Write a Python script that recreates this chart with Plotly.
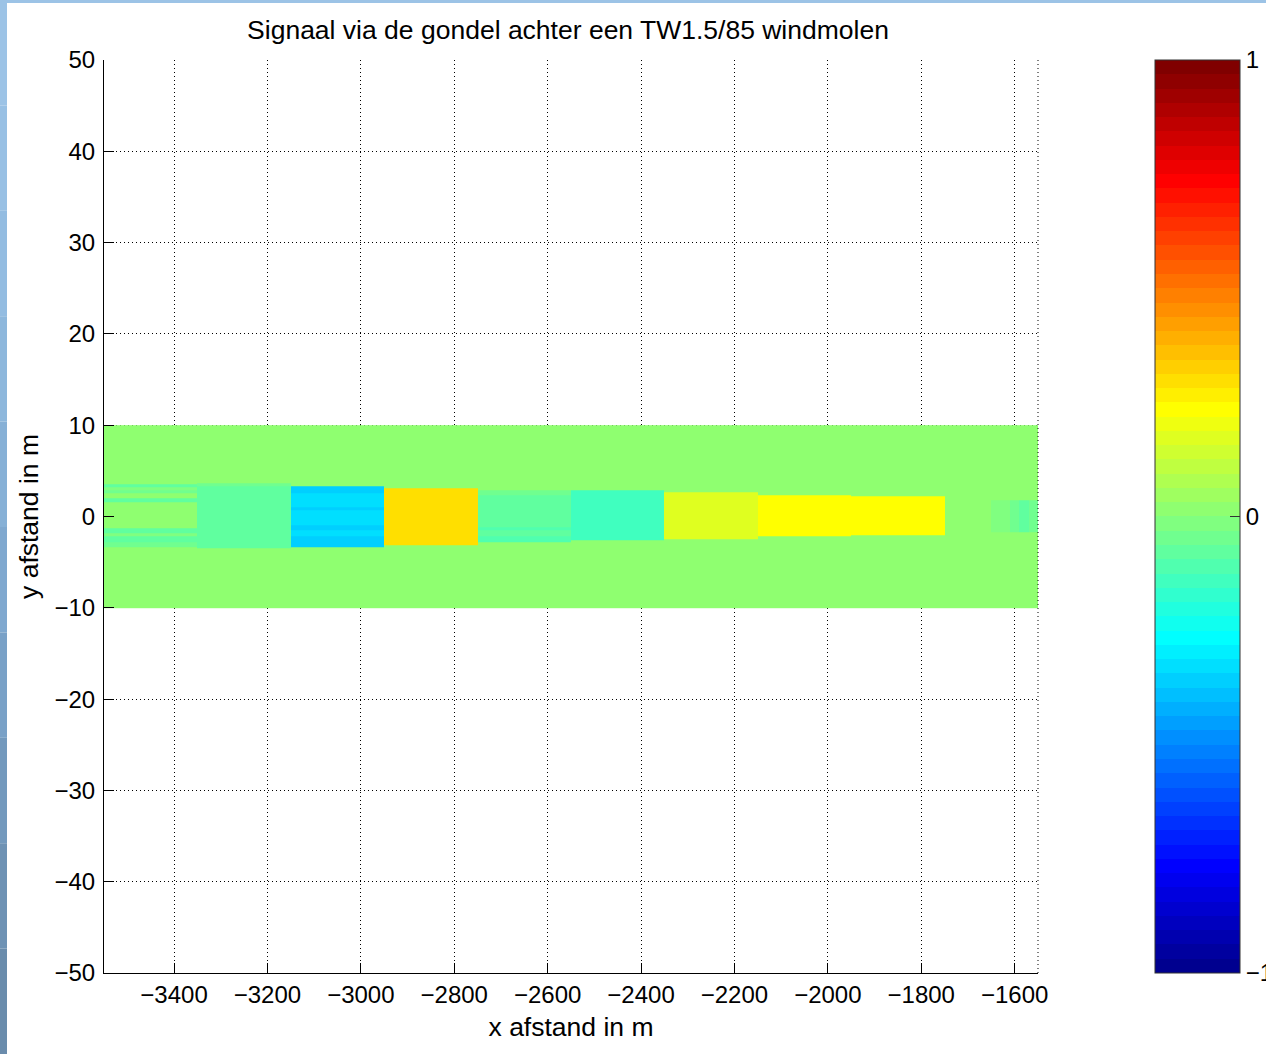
import plotly.graph_objects as go

# ---- data -----------------------------------------------------------------
# Column edges along the track behind the turbine (m)
x_edges = [-3550, -3350, -3150, -2950, -2750, -2550, -2350, -2150, -1950, -1750,
           -1650, -1630, -1610, -1590, -1570, -1550]

# Extent of the sampled strip across the track (m)
y_limits = [-10, 10]

# Signal level outside the wake bands
background_value = 0.015

# Wake bands per column as (y_bottom, y_top, signal); later bands overwrite earlier ones
col_bands = [
    [(3.26, 3.56, -0.078), (2.90, 3.26, -0.016), (2.54, 2.90, -0.047),
     (1.56, 1.99, -0.078), (-1.84, -1.29, -0.078), (-2.21, -1.84, -0.016),
     (-2.76, -2.21, -0.078), (-3.37, -2.76, -0.047)],
    [(-3.45, 3.64, -0.078), (3.30, 3.64, -0.047)],
    [(-3.31, 3.34, -0.328), (2.54, 3.34, -0.359), (0.71, 1.07, -0.359),
     (-1.48, -0.93, -0.359), (-3.31, -2.21, -0.359)],
    [(-3.09, 3.15, 0.297)],
    [(-2.76, 2.90, -0.078), (2.35, 2.90, -0.047), (-1.48, -1.12, -0.109),
     (-2.76, -2.21, -0.109)],
    [(-2.57, 2.90, -0.141)],
    [(-2.46, 2.65, 0.172)],
    [(-2.21, 2.35, 0.234)],
    [(-2.03, 2.17, 0.234)],
    [],
    [(-1.70, 1.80, -0.016)],
    [(-1.70, 1.80, -0.016)],
    [(-1.70, 1.80, -0.047)],
    [(-1.70, 1.80, -0.078)],
    [(-1.70, 1.80, -0.047)],
]

x_ticks = [-3400, -3200, -3000, -2800, -2600, -2400, -2200, -2000, -1800, -1600]
y_ticks = [-50, -40, -30, -20, -10, 0, 10, 20, 30, 40, 50]
cbar_ticks = [-1, 0, 1]

# ---- grid of cells built from the bands ----------------------------------
y_edges = sorted({y_limits[0], y_limits[1]} |
                 {b for bands in col_bands for seg in bands for b in seg[:2]})
z = []
for lo, hi in zip(y_edges[:-1], y_edges[1:]):
    mid = 0.5 * (lo + hi)
    row = []
    for bands in col_bands:
        v = background_value
        for b0, b1, val in bands:
            if b0 <= mid < b1:
                v = val
        row.append(v)
    z.append(row)


# ---- 64-level jet colour map ---------------------------------------------
def jet_levels(m=64):
    n = m // 4
    u = [i / n for i in range(1, n + 1)] + [1.0] * (n - 1) + [i / n for i in range(n, 0, -1)]
    g = [n // 2 + i for i in range(1, len(u) + 1)]
    r = [gi + n for gi in g if gi + n <= m]
    b = [gi - n for gi in g if gi - n >= 1]
    g = [gi for gi in g if gi <= m]
    rgb = [[0.0, 0.0, 0.0] for _ in range(m)]
    for k, ri in enumerate(r):
        rgb[ri - 1][0] = u[k]
    for k, gi in enumerate(g):
        rgb[gi - 1][1] = u[k]
    off = len(u) - len(b)
    for k, bi in enumerate(b):
        rgb[bi - 1][2] = u[off + k]
    return ["rgb(%d,%d,%d)" % tuple(round(c * 255) for c in col) for col in rgb]


levels = jet_levels(64)
colorscale = []
for k, c in enumerate(levels):
    colorscale.append([k / 64, c])
    colorscale.append([(k + 1) / 64, c])

# ---- figure ----------------------------------------------------------------
W, H = 1266, 1054
ML, MR, MT, MB = 104, 228, 60, 81
PW, PH = W - ML - MR, H - MT - MB

FONT = "Liberation Sans, Arial, Helvetica, sans-serif"
TITLE_SIZE = 26.5

fig = go.Figure(go.Heatmap(
    x=x_edges, y=y_edges, z=z,
    zmin=-1, zmax=1,
    colorscale=colorscale,
    hoverinfo="skip",
    colorbar=dict(
        x=(1155 - ML) / PW, xanchor="left", xpad=0,
        y=0.5, yanchor="middle", ypad=0,
        len=1, lenmode="fraction",
        thickness=85, thicknessmode="pixels",
        outlinewidth=1, outlinecolor="#333333",
        tickvals=cbar_ticks, ticktext=["\u22121", "0", "1"],
        ticks="inside", ticklen=10, tickcolor="#333333",
        tickfont=dict(family=FONT, size=24, color="black"),
        borderwidth=0,
    ),
))

grid_dash = "1px,3px"
axis_common = dict(
    showline=True, linecolor="black", linewidth=1,
    ticks="inside", ticklen=10, tickcolor="black", tickwidth=1,
    showgrid=True, gridcolor="black", gridwidth=1, griddash=grid_dash,
    zeroline=False, mirror=False,
    tickfont=dict(family=FONT, size=24, color="black"),
)

fig.update_xaxes(
    range=[x_edges[0], x_edges[-1]], tickvals=x_ticks,
    title=dict(text="x afstand in m", font=dict(family=FONT, size=TITLE_SIZE, color="black"),
               standoff=10),
    **axis_common,
)
fig.update_yaxes(
    range=[y_ticks[0], y_ticks[-1]], tickvals=y_ticks, ticklabelstandoff=3,
    title=dict(text="y afstand in m", font=dict(family=FONT, size=TITLE_SIZE, color="black"),
               standoff=8),
    **axis_common,
)

shapes = [
    # dotted frame on the right edge of the axes
    dict(type="line", xref="paper", yref="paper", x0=1, x1=1, y0=0, y1=1,
         line=dict(color="black", width=1, dash=grid_dash), layer="above"),
    # short tick on the left edge of the colour bar at zero
    dict(type="line", xref="paper", yref="paper",
         x0=(1155 - ML) / PW, x1=(1165 - ML) / PW, y0=0.5, y1=0.5,
         line=dict(color="#333333", width=1), layer="above"),
]

# blue frame along the left and top edges of the page
frame_cols = ["#9cc3e6", "#98c0e4", "#93bce1", "#8db7dc", "#86b0d6",
              "#7fa8cf", "#79a1c7", "#7399bd", "#6e92b4", "#6a8cac"]
seg = H / len(frame_cols)
for i, c in enumerate(frame_cols):
    top_px, bot_px = i * seg, (i + 1) * seg
    shapes.append(dict(
        type="rect", xref="paper", yref="paper",
        x0=(0 - ML) / PW, x1=(7 - ML) / PW,
        y0=(H - MB - bot_px) / PH, y1=(H - MB - top_px) / PH,
        fillcolor=c, line=dict(width=0), layer="above"))
shapes.append(dict(
    type="rect", xref="paper", yref="paper",
    x0=(0 - ML) / PW, x1=(W - ML) / PW,
    y0=(H - MB - 3) / PH, y1=(H - MB) / PH,
    fillcolor="#9cc3e6", line=dict(width=0), layer="above"))

fig.update_layout(
    width=W, height=H,
    margin=dict(l=ML, r=MR, t=MT, b=MB, pad=0, autoexpand=False),
    paper_bgcolor="white", plot_bgcolor="white",
    font=dict(family=FONT, size=24, color="black"),
    title=dict(text="Signaal via de gondel achter een TW1.5/85 windmolen",
               x=568 / W, xanchor="center", xref="container",
               y=1 - 30 / H, yanchor="middle", yref="container",
               font=dict(family=FONT, size=TITLE_SIZE, color="black")),
    shapes=shapes,
    showlegend=False,
)

fig.write_html("out.html")
